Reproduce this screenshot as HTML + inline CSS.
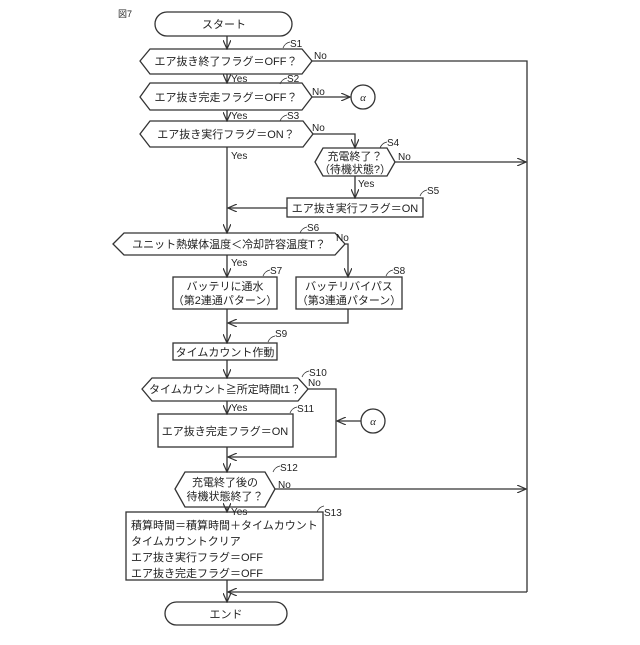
<!DOCTYPE html>
<html><head><meta charset="utf-8"><style>body{margin:0;background:#fff}</style></head><body>
<svg width="640" height="640" viewBox="0 0 640 640" xmlns="http://www.w3.org/2000/svg" font-family="Liberation Sans, Noto Sans CJK JP, sans-serif" font-size="11" fill="#222">
<defs><marker id="a" markerWidth="10" markerHeight="8" refX="9" refY="4" orient="auto" markerUnits="userSpaceOnUse"><path d="M0,0 L9,4 L0,8" fill="none" stroke="#333" stroke-width="1.2"/></marker></defs>
<g stroke="#333" stroke-width="1.3" fill="none">
<text x="118" y="17" font-size="9" fill="#222" stroke="none">図7</text>
<rect x="155" y="12" width="137" height="24" rx="12"/>
<line x1="227" y1="36" x2="227" y2="49" marker-end="url(#a)"/>
<polygon points="140,61 150,49 302,49 312,61 302,74 150,74"/>
<line x1="227" y1="74" x2="227" y2="83" marker-end="url(#a)"/>
<polygon points="140,97 150,83 302,83 312,97 302,110 150,110"/>
<line x1="312" y1="97" x2="350" y2="97" marker-end="url(#a)"/>
<circle cx="363" cy="97" r="12"/>
<line x1="227" y1="110" x2="227" y2="121" marker-end="url(#a)"/>
<polygon points="140,134 150,121 303,121 313,134 303,147 150,147"/>
<polyline points="312,61 527,61 527,592"/>
<polyline points="313,134 355,134 355,148" marker-end="url(#a)"/>
<polygon points="315,162 323,148 387,148 395,162 387,176 323,176"/>
<line x1="395" y1="162" x2="526" y2="162" marker-end="url(#a)"/>
<line x1="355" y1="176" x2="355" y2="198" marker-end="url(#a)"/>
<rect x="287" y="198" width="136" height="19"/>
<line x1="287" y1="208" x2="228" y2="208" marker-end="url(#a)"/>
<line x1="227" y1="147" x2="227" y2="233" marker-end="url(#a)"/>
<polygon points="113,244 124,233 335,233 345,244 335,255 124,255"/>
<polyline points="345,244 348,244 348,277" marker-end="url(#a)"/>
<line x1="227" y1="255" x2="227" y2="277" marker-end="url(#a)"/>
<rect x="173" y="277" width="104" height="32"/>
<rect x="296" y="277" width="106" height="32"/>
<polyline points="348,309 348,323 228,323" marker-end="url(#a)"/>
<line x1="227" y1="309" x2="227" y2="343" marker-end="url(#a)"/>
<rect x="173" y="343" width="104" height="17"/>
<line x1="227" y1="360" x2="227" y2="378" marker-end="url(#a)"/>
<polygon points="142,389 152,378 298,378 308,389 298,401 152,401"/>
<polyline points="308,389 336,389 336,457 228,457" marker-end="url(#a)"/>
<line x1="361" y1="421" x2="337" y2="421" marker-end="url(#a)"/>
<circle cx="373" cy="421" r="12"/>
<line x1="227" y1="401" x2="227" y2="414" marker-end="url(#a)"/>
<rect x="158" y="414" width="135" height="33"/>
<line x1="227" y1="447" x2="227" y2="472" marker-end="url(#a)"/>
<polygon points="175,489 185,472 265,472 275,489 265,507 185,507"/>
<line x1="275" y1="489" x2="526" y2="489" marker-end="url(#a)"/>
<line x1="227" y1="507" x2="227" y2="512" marker-end="url(#a)"/>
<rect x="126" y="512" width="197" height="68"/>
<line x1="527" y1="592" x2="228" y2="592" marker-end="url(#a)"/>
<line x1="227" y1="580" x2="227" y2="602" marker-end="url(#a)"/>
<rect x="165" y="602" width="122" height="23" rx="11.5"/>
<g stroke-width="0.8"><path d="M283,48 q2,-5 7,-6"/><path d="M280,84 q2,-5 7,-6"/><path d="M280,121 q2,-5 7,-6"/><path d="M380,148 q2,-5 7,-6"/><path d="M420,196 q2,-5 7,-6"/><path d="M300,233 q2,-5 7,-6"/><path d="M263,276 q2,-5 7,-6"/><path d="M386,276 q2,-5 7,-6"/><path d="M268,342 q2,-5 7,-6"/><path d="M302,377 q2,-5 7,-6"/><path d="M290,413 q2,-5 7,-6"/><path d="M273,472 q2,-5 7,-6"/><path d="M317,512 q2,-5 7,-6"/></g>
</g>
<g text-anchor="middle">
<text x="224" y="28">スタート</text>
<text x="226" y="65">エア抜き終了フラグ＝OFF？</text>
<text x="226" y="101">エア抜き完走フラグ＝OFF？</text>
<text x="363" y="101" font-style="italic" font-family="Liberation Serif, serif">α</text>
<text x="226" y="138">エア抜き実行フラグ＝ON？</text>
<text x="355" y="160">充電終了？</text>
<text x="355" y="173">（待機状態?）</text>
<text x="355" y="212">エア抜き実行フラグ＝ON</text>
<text x="229" y="248">ユニット熱媒体温度＜冷却許容温度T？</text>
<text x="225" y="290">バッテリに通水</text>
<text x="225" y="304">（第2連通パターン）</text>
<text x="349" y="290">バッテリバイパス</text>
<text x="349" y="304">（第3連通パターン）</text>
<text x="225" y="356">タイムカウント作動</text>
<text x="225" y="393">タイムカウント≧所定時間t1？</text>
<text x="373" y="425" font-style="italic" font-family="Liberation Serif, serif">α</text>
<text x="225" y="435">エア抜き完走フラグ＝ON</text>
<text x="225" y="486">充電終了後の</text>
<text x="225" y="500">待機状態終了？</text>
<text x="226" y="618">エンド</text>
</g>
<g font-size="10">
<text x="314" y="59">No</text><text x="231" y="82">Yes</text>
<text x="312" y="95">No</text><text x="231" y="119">Yes</text>
<text x="312" y="131">No</text><text x="231" y="159">Yes</text>
<text x="398" y="160">No</text><text x="358" y="187">Yes</text>
<text x="336" y="241">No</text><text x="231" y="266">Yes</text>
<text x="308" y="386">No</text><text x="231" y="411">Yes</text>
<text x="278" y="488">No</text><text x="231" y="515">Yes</text>
<text x="290" y="47">S1</text><text x="287" y="82">S2</text><text x="287" y="119">S3</text>
<text x="387" y="146">S4</text><text x="427" y="194">S5</text><text x="307" y="231">S6</text>
<text x="270" y="274">S7</text><text x="393" y="274">S8</text><text x="275" y="337">S9</text>
<text x="309" y="376">S10</text><text x="297" y="412">S11</text><text x="280" y="471">S12</text><text x="324" y="516">S13</text>
</g>
<g font-size="11">
<text x="131" y="529">積算時間＝積算時間＋タイムカウント</text>
<text x="131" y="545">タイムカウントクリア</text>
<text x="131" y="561">エア抜き実行フラグ＝OFF</text>
<text x="131" y="577">エア抜き完走フラグ＝OFF</text>
</g>
</svg>
</body></html>
